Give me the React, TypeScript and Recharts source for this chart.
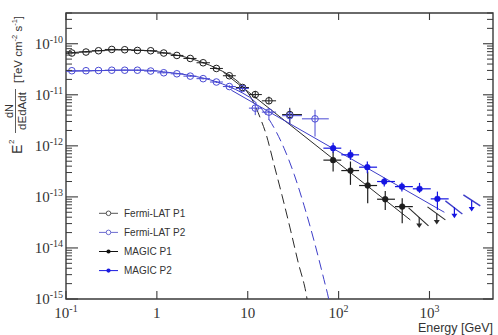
import React from 'react';
import { ComposedChart, Line, Scatter, XAxis, YAxis, ErrorBar, Legend, ReferenceArea } from 'recharts';

// ---------- axes ----------
const X_DOMAIN: [number, number] = [0.1, 5000];
const Y_DOMAIN: [number, number] = [1e-15, 4e-10];
const xMajorTicks = [0.1, 1, 10, 100, 1000];
const yMajorTicks = [1e-15, 1e-14, 1e-13, 1e-12, 1e-11, 1e-10];
const minorMantissas = [2, 3, 4, 5, 6, 7, 8, 9];
const xDecades = [0.1, 1, 10, 100, 1000];
const yDecades = [1e-15, 1e-14, 1e-13, 1e-12, 1e-11, 1e-10];
const xMinorTicks = xDecades.flatMap((d) => minorMantissas.map((m) => m * d)).filter((v) => v <= 5000);
const yMinorTicks = yDecades.flatMap((d) => minorMantissas.map((m) => m * d)).filter((v) => v <= 4e-10);

// ---------- Fermi-LAT data ----------
const fermiE = [0.116, 0.166, 0.228, 0.319, 0.443, 0.611, 0.855, 1.19, 1.66, 2.33, 3.23, 4.52, 6.27, 8.77, 12.1, 17.1, 29];
const fermiBinLo = [0.1, 0.139, 0.193, 0.267, 0.376, 0.522, 0.725, 1.01, 1.42, 1.96, 2.73, 3.84, 5.33, 7.39, 10.3, 14.3, 23.9];
const fermiBinHi = [0.139, 0.193, 0.267, 0.376, 0.522, 0.725, 1.01, 1.42, 1.96, 2.73, 3.84, 5.33, 7.39, 10.3, 14.3, 20.5, 39.5];

const fermiP1Flux = [6.58e-11, 6.88e-11, 7.29e-11, 7.73e-11, 7.63e-11, 7.39e-11, 7.29e-11, 6.58e-11, 5.9e-11, 5.15e-11, 4.24e-11, 3.28e-11, 2.36e-11, 1.39e-11, 1.01e-11, 7.62e-12, 4.1e-12];
const fermiP1Lo = [6.4e-11, 6.75e-11, 7.15e-11, 7.6e-11, 7.5e-11, 7.25e-11, 7.15e-11, 6.45e-11, 5.78e-11, 5.03e-11, 4.12e-11, 3.16e-11, 2.2e-11, 1.29e-11, 8.6e-12, 6.6e-12, 2.7e-12];
const fermiP1Hi = [6.76e-11, 7.02e-11, 7.43e-11, 7.86e-11, 7.76e-11, 7.53e-11, 7.43e-11, 6.71e-11, 6.02e-11, 5.27e-11, 4.36e-11, 3.4e-11, 2.52e-11, 1.5e-11, 1.19e-11, 9.2e-12, 5.56e-12];

const fermiP2E = [0.116, 0.166, 0.228, 0.319, 0.443, 0.611, 0.855, 1.19, 1.66, 2.33, 3.23, 4.52, 6.27, 8.77, 12.1, 17.1, 29, 55];
const fermiP2BinLo = [0.1, 0.139, 0.193, 0.267, 0.376, 0.522, 0.725, 1.01, 1.42, 1.96, 2.73, 3.84, 5.33, 7.39, 10.3, 14.3, 23.9, 39.5];
const fermiP2BinHi = [0.139, 0.193, 0.267, 0.376, 0.522, 0.725, 1.01, 1.42, 1.96, 2.73, 3.84, 5.33, 7.39, 10.3, 14.3, 20.5, 39.5, 78];
const fermiP2Flux = [2.96e-11, 2.96e-11, 2.99e-11, 3.03e-11, 3.03e-11, 3.03e-11, 2.92e-11, 2.7e-11, 2.58e-11, 2.32e-11, 2.07e-11, 1.78e-11, 1.45e-11, 1.33e-11, 5.48e-12, 4.58e-12, 3.9e-12, 3.38e-12];
const fermiP2Lo = [2.9e-11, 2.9e-11, 2.93e-11, 2.97e-11, 2.97e-11, 2.97e-11, 2.86e-11, 2.64e-11, 2.52e-11, 2.26e-11, 2.0e-11, 1.7e-11, 1.36e-11, 1.22e-11, 4.0e-12, 3.2e-12, 2.6e-12, 1.52e-12];
const fermiP2Hi = [3.02e-11, 3.02e-11, 3.05e-11, 3.09e-11, 3.09e-11, 3.09e-11, 2.98e-11, 2.76e-11, 2.64e-11, 2.38e-11, 2.14e-11, 1.86e-11, 1.54e-11, 1.44e-11, 6.9e-12, 5.5e-12, 5.3e-12, 5.08e-12];

// ---------- MAGIC data ----------
const magicP1E = [87, 135, 209, 326, 501];
const magicP1BinLo = [68, 107, 168, 265, 417];
const magicP1BinHi = [107, 168, 265, 417, 656];
const magicP1Flux = [5.25e-13, 3.28e-13, 1.67e-13, 9.0e-14, 6.45e-14];
const magicP1Lo = [3.13e-13, 1.72e-13, 7.5e-14, 5.56e-14, 3.05e-14];
const magicP1Hi = [7.73e-13, 4.93e-13, 3.13e-13, 1.31e-13, 9.4e-14];

const magicP2E = [87, 135, 207, 318, 497, 777, 1223];
const magicP2BinLo = [68, 107, 168, 265, 417, 656, 1033];
const magicP2BinHi = [107, 168, 265, 417, 656, 1033, 1626];
const magicP2Flux = [9.0e-13, 6.67e-13, 3.82e-13, 2.0e-13, 1.59e-13, 1.44e-13, 9.15e-14];
const magicP2Lo = [7.3e-13, 5.31e-13, 2.92e-13, 1.59e-13, 1.27e-13, 1.2e-13, 5.56e-14];
const magicP2Hi = [1.15e-12, 8.36e-13, 4.92e-13, 2.36e-13, 1.91e-13, 1.88e-13, 1.27e-13];

// upper limits (arrow tops)
const magicP1UlE = [771, 1203];
const magicP1UlF = [4.05e-14, 4.74e-14];
const magicP2UlE = [1880, 2912];
const magicP2UlF = [6.3e-14, 8.5e-14];
// upper-limit slope segments
const ulSegP1a = { E: [589, 975], F: [6.08e-14, 2.7e-14] };
const ulSegP1b = { E: [950, 1496], F: [6.37e-14, 3.54e-14] };
const ulSegP2a = { E: [1496, 2300], F: [8.36e-14, 4.64e-14] };
const ulSegP2b = { E: [2360, 3622], F: [1.09e-13, 6.67e-14] };

// ---------- fits ----------
const fitP1SolidE = [0.1, 0.224, 0.443, 0.833, 1.18, 2.29, 4.52, 6.27, 8.71, 10.4];
const fitP1SolidF = [6.52e-11, 7.29e-11, 7.62e-11, 7.29e-11, 6.67e-11, 5.2e-11, 3.31e-11, 2.41e-11, 1.5e-11, 1.0e-11];
const fitP1DashE = [10.4, 12.1, 13.7, 15.8, 19.5, 23.9, 29.2, 35.8, 44.5, 47];
const fitP1DashF = [1.0e-11, 6.08e-12, 3.54e-12, 1.77e-12, 4.24e-13, 1.05e-13, 2.47e-14, 5.31e-15, 1.11e-15, 6e-16];
const fitP2SolidE = [0.1, 0.224, 0.443, 0.833, 1.18, 2.29, 4.52, 6.27, 8.71, 10.4];
const fitP2SolidF = [2.89e-11, 2.96e-11, 3.05e-11, 3.02e-11, 2.82e-11, 2.41e-11, 1.8e-11, 1.44e-11, 1.09e-11, 9.06e-12];
const fitP2DashE = [10.4, 13.4, 17.2, 20.5, 25.1, 32.4, 41.6, 53.5, 68.9, 78.2, 82];
const fitP2DashF = [9.06e-12, 6.03e-12, 3.28e-12, 1.91e-12, 8.97e-13, 2.77e-13, 6.84e-14, 1.41e-14, 2.42e-15, 9.5e-16, 6e-16];
const plP1E = [5.4, 615];
const plP1F = [2.77e-11, 3.54e-14];
const plP2E = [6.6, 1459];
const plP2F = [1.23e-11, 4.99e-14];

const legendItems = [
  { name: 'Fermi-LAT P1', color: '#555555', filled: false },
  { name: 'Fermi-LAT P2', color: '#6c6cd0', filled: false },
  { name: 'MAGIC P1', color: '#111111', filled: true },
  { name: 'MAGIC P2', color: '#1a1ae0', filled: true },
];

// ---------- layout / colours ----------
const CHART_W = 498;
const CHART_H = 335;
const MARGIN = { top: 13, right: 5, left: 0, bottom: 0 };
const Y_AXIS_W = 66;
const X_AXIS_H = 36;
const PLOT_LEFT = MARGIN.left + Y_AXIS_W;
const PLOT_RIGHT = CHART_W - MARGIN.right;
const PLOT_TOP = MARGIN.top;
const PLOT_BOTTOM = CHART_H - MARGIN.bottom - X_AXIS_H;

const C_BLACK = '#1e1e1e';
const C_FIT_BLACK = '#2a2a2a';
const C_FIT_BLUE = '#3d3dc8';
const C_FERMI_BLUE = '#4a4ad4';
const C_MAGIC_BLUE = '#1515e2';
const C_FRAME = '#3a3a3a';
const SERIF = "'Liberation Serif', 'Times New Roman', serif";
const SANS = "'Liberation Sans', Arial, Helvetica, sans-serif";

// ---------- helpers ----------
const pts = (E: number[], F: number[], lo: number[], hi: number[], bl: number[], bh: number[]) =>
  E.map((e, i) => ({ x: e, y: F[i], ex: [e - bl[i], bh[i] - e], ey: [F[i] - lo[i], hi[i] - F[i]] }));
const line = (E: number[], F: number[]) => E.map((e, i) => ({ x: e, y: F[i] }));

const fermiP1 = pts(fermiE, fermiP1Flux, fermiP1Lo, fermiP1Hi, fermiBinLo, fermiBinHi);
const fermiP2 = pts(fermiP2E, fermiP2Flux, fermiP2Lo, fermiP2Hi, fermiP2BinLo, fermiP2BinHi);
const magicP1 = pts(magicP1E, magicP1Flux, magicP1Lo, magicP1Hi, magicP1BinLo, magicP1BinHi);
const magicP2 = pts(magicP2E, magicP2Flux, magicP2Lo, magicP2Hi, magicP2BinLo, magicP2BinHi);
const ulP1 = line(magicP1UlE, magicP1UlF);
const ulP2 = line(magicP2UlE, magicP2UlF);

const expOf = (v: number) => Math.round(Math.log10(v));

// major x tick: label + inward tick marks on bottom and top frame
const XTick = (props: any) => {
  const { x, payload } = props;
  const e = expOf(payload.value);
  return (
    <g>
      <line x1={x} x2={x} y1={PLOT_BOTTOM} y2={PLOT_BOTTOM - 8} stroke={C_FRAME} strokeWidth={1.1} />
      <line x1={x} x2={x} y1={PLOT_TOP} y2={PLOT_TOP + 7} stroke={C_FRAME} strokeWidth={1.1} />
      <text x={x} y={PLOT_BOTTOM + 19} textAnchor="middle" fontFamily={SERIF} fontSize={15} fill="#333">
        {e === 0 ? '1' : e === 1 ? '10' : (
          <>
            <tspan>10</tspan>
            <tspan dy={-6} fontSize={10}>{String(e)}</tspan>
          </>
        )}
      </text>
    </g>
  );
};
const XMinorTick = (props: any) => {
  const { x } = props;
  return (
    <g>
      <line x1={x} x2={x} y1={PLOT_BOTTOM} y2={PLOT_BOTTOM - 4} stroke={C_FRAME} strokeWidth={1} />
      <line x1={x} x2={x} y1={PLOT_TOP} y2={PLOT_TOP + 4} stroke={C_FRAME} strokeWidth={1} />
    </g>
  );
};

const YTick = (props: any) => {
  const { y, payload } = props;
  const e = expOf(payload.value);
  return (
    <g>
      <line x1={PLOT_LEFT} x2={PLOT_LEFT + 12} y1={y} y2={y} stroke={C_FRAME} strokeWidth={1.1} />
      <line x1={PLOT_RIGHT} x2={PLOT_RIGHT - 10} y1={y} y2={y} stroke={C_FRAME} strokeWidth={1.1} />
      <text x={PLOT_LEFT - 3} y={y + 5} textAnchor="end" fontFamily={SERIF} fontSize={15} fill="#333">
        <tspan>10</tspan>
        <tspan dy={-6} fontSize={10}>{String(e)}</tspan>
      </text>
    </g>
  );
};
const YMinorTick = (props: any) => {
  const { y } = props;
  return (
    <g>
      <line x1={PLOT_LEFT} x2={PLOT_LEFT + 6} y1={y} y2={y} stroke={C_FRAME} strokeWidth={1} />
      <line x1={PLOT_RIGHT} x2={PLOT_RIGHT - 6} y1={y} y2={y} stroke={C_FRAME} strokeWidth={1} />
    </g>
  );
};

const XTitle = () => (
  <text x={PLOT_RIGHT} y={332} textAnchor="end" fontFamily={SANS} fontSize={12.5} fill="#333">
    Energy [GeV]
  </text>
);

const YTitle = () => (
  <g fill="#333" fontFamily={SANS}>
    <g transform="translate(22,155) rotate(-90)">
      <text x={1} y={0} fontSize={14}>E</text>
      <text x={11} y={-8} fontSize={8}>2</text>
      <text x={44} y={-9} fontSize={11} textAnchor="middle">dN</text>
      <line x1={22} x2={66} y1={-6.5} y2={-6.5} stroke="#333" strokeWidth={0.8} />
      <text x={44} y={3.5} fontSize={11.5} textAnchor="middle">dEdAdt</text>
      <text x={72} y={0} fontSize={11.5}>
        [TeV cm<tspan dy={-5} fontSize={7.5}>-2</tspan>
        <tspan dy={5}> s</tspan>
        <tspan dy={-5} fontSize={7.5}>-1</tspan>
        <tspan dy={5}>]</tspan>
      </text>
    </g>
  </g>
);

const OpenCircle = (color: string) => (p: any) =>
  p.cx == null ? <g /> : <circle cx={p.cx} cy={p.cy} r={3.3} fill="none" stroke={color} strokeWidth={1} />;
const FilledCircle = (color: string) => (p: any) =>
  p.cx == null ? <g /> : <circle cx={p.cx} cy={p.cy} r={2.9} fill={color} stroke={color} strokeWidth={0.5} />;
const DownArrow = (color: string) => (p: any) =>
  p.cx == null ? <g /> : (
    <g>
      <line x1={p.cx} y1={p.cy} x2={p.cx} y2={p.cy + 8} stroke={color} strokeWidth={1.2} />
      <path d={`M${p.cx - 3},${p.cy + 6.5} L${p.cx + 3},${p.cy + 6.5} L${p.cx},${p.cy + 11} Z`} fill={color} />
    </g>
  );

const LegendBox = () => (
  <svg width={130} height={76} style={{ display: 'block' }}>
    {legendItems.map((it, i) => {
      const y = 9.3 + i * 19.1;
      return (
        <g key={it.name}>
          <line x1={4} x2={23} y1={y} y2={y} stroke={it.color} strokeWidth={1} />
          {it.filled ? (
            <circle cx={13.5} cy={y} r={2.1} fill={it.color} />
          ) : (
            <circle cx={13.5} cy={y} r={2.3} fill="white" stroke={it.color} strokeWidth={1} />
          )}
          <text x={29} y={y + 3.6} fontFamily={SANS} fontSize={10} fill="#333">
            {it.name}
          </text>
        </g>
      );
    })}
  </svg>
);

const axisCommon = { type: 'number' as const, scale: 'log' as const, allowDataOverflow: true, interval: 0 as const };

export default function App() {
  return (
    <div style={{ position: 'absolute', left: 0, top: 0, background: '#fff' }}>
      <ComposedChart width={CHART_W} height={CHART_H} margin={MARGIN}>
        {/* label axes (also draw major inward ticks) */}
        <XAxis xAxisId={0} dataKey="x" {...axisCommon} domain={X_DOMAIN} ticks={xMajorTicks} tickLine={false}
          axisLine={false} tick={XTick} tickSize={0} tickMargin={0} height={X_AXIS_H} label={<XTitle />} />
        <YAxis yAxisId={0} dataKey="y" {...axisCommon} domain={Y_DOMAIN} ticks={yMajorTicks} tickLine={false}
          axisLine={false} tick={YTick} tickSize={0} tickMargin={0} width={Y_AXIS_W} label={<YTitle />} />
        {/* minor tick axes */}
        <XAxis xAxisId="xm" mirror {...axisCommon} domain={X_DOMAIN} ticks={xMinorTicks}
          tick={XMinorTick} tickLine={false} axisLine={false} />
        <YAxis yAxisId="ym" mirror {...axisCommon} domain={Y_DOMAIN} ticks={yMinorTicks}
          tick={YMinorTick} tickLine={false} axisLine={false} />

        {/* frame */}
        <ReferenceArea x1={X_DOMAIN[0]} x2={X_DOMAIN[1]} y1={Y_DOMAIN[0]} y2={Y_DOMAIN[1]}
          fill="none" fillOpacity={0} stroke={C_FRAME} strokeWidth={1.4} ifOverflow="visible" />

        {/* fits */}
        <Line data={line(fitP1SolidE, fitP1SolidF)} dataKey="y" type="monotone" stroke={C_FIT_BLACK} strokeWidth={1} dot={false} isAnimationActive={false} />
        <Line data={line(fitP1DashE, fitP1DashF)} dataKey="y" type="monotone" stroke={C_FIT_BLACK} strokeWidth={1} strokeDasharray="10 5" dot={false} isAnimationActive={false} />
        <Line data={line(fitP2SolidE, fitP2SolidF)} dataKey="y" type="monotone" stroke={C_FIT_BLUE} strokeWidth={1} dot={false} isAnimationActive={false} />
        <Line data={line(fitP2DashE, fitP2DashF)} dataKey="y" type="monotone" stroke={C_FIT_BLUE} strokeWidth={1} strokeDasharray="10 5" dot={false} isAnimationActive={false} />
        <Line data={line(plP1E, plP1F)} dataKey="y" type="linear" stroke={C_FIT_BLACK} strokeWidth={1} dot={false} isAnimationActive={false} />
        <Line data={line(plP2E, plP2F)} dataKey="y" type="linear" stroke={C_FIT_BLUE} strokeWidth={1} dot={false} isAnimationActive={false} />
        <Line data={line(ulSegP1a.E, ulSegP1a.F)} dataKey="y" type="linear" stroke={C_FIT_BLACK} strokeWidth={1.1} dot={false} isAnimationActive={false} />
        <Line data={line(ulSegP1b.E, ulSegP1b.F)} dataKey="y" type="linear" stroke={C_FIT_BLACK} strokeWidth={1.1} dot={false} isAnimationActive={false} />
        <Line data={line(ulSegP2a.E, ulSegP2a.F)} dataKey="y" type="linear" stroke={C_FIT_BLUE} strokeWidth={1.3} dot={false} isAnimationActive={false} />
        <Line data={line(ulSegP2b.E, ulSegP2b.F)} dataKey="y" type="linear" stroke={C_FIT_BLUE} strokeWidth={1.5} dot={false} isAnimationActive={false} />

        {/* data points */}
        <Scatter data={fermiP1} shape={OpenCircle(C_BLACK)} isAnimationActive={false}>
          <ErrorBar dataKey="ex" direction="x" width={0} stroke={C_BLACK} strokeWidth={1} />
          <ErrorBar dataKey="ey" direction="y" width={0} stroke={C_BLACK} strokeWidth={1} />
        </Scatter>
        <Scatter data={fermiP2} shape={OpenCircle(C_FERMI_BLUE)} isAnimationActive={false}>
          <ErrorBar dataKey="ex" direction="x" width={0} stroke={C_FERMI_BLUE} strokeWidth={1} />
          <ErrorBar dataKey="ey" direction="y" width={0} stroke={C_FERMI_BLUE} strokeWidth={1} />
        </Scatter>
        <Scatter data={magicP1} shape={FilledCircle(C_BLACK)} isAnimationActive={false}>
          <ErrorBar dataKey="ex" direction="x" width={0} stroke={C_BLACK} strokeWidth={1.2} />
          <ErrorBar dataKey="ey" direction="y" width={0} stroke={C_BLACK} strokeWidth={1.2} />
        </Scatter>
        <Scatter data={magicP2} shape={FilledCircle(C_MAGIC_BLUE)} isAnimationActive={false}>
          <ErrorBar dataKey="ex" direction="x" width={0} stroke={C_MAGIC_BLUE} strokeWidth={1.2} />
          <ErrorBar dataKey="ey" direction="y" width={0} stroke={C_MAGIC_BLUE} strokeWidth={1.2} />
        </Scatter>
        <Scatter data={ulP1} shape={DownArrow(C_FIT_BLACK)} isAnimationActive={false} />
        <Scatter data={ulP2} shape={DownArrow(C_MAGIC_BLUE)} isAnimationActive={false} />

        <Legend layout="horizontal" verticalAlign="middle" align="center" content={() => <LegendBox />}
          wrapperStyle={{ position: 'absolute', left: 95, top: 204, width: 130, height: 76 }} />
      </ComposedChart>
    </div>
  );
}
